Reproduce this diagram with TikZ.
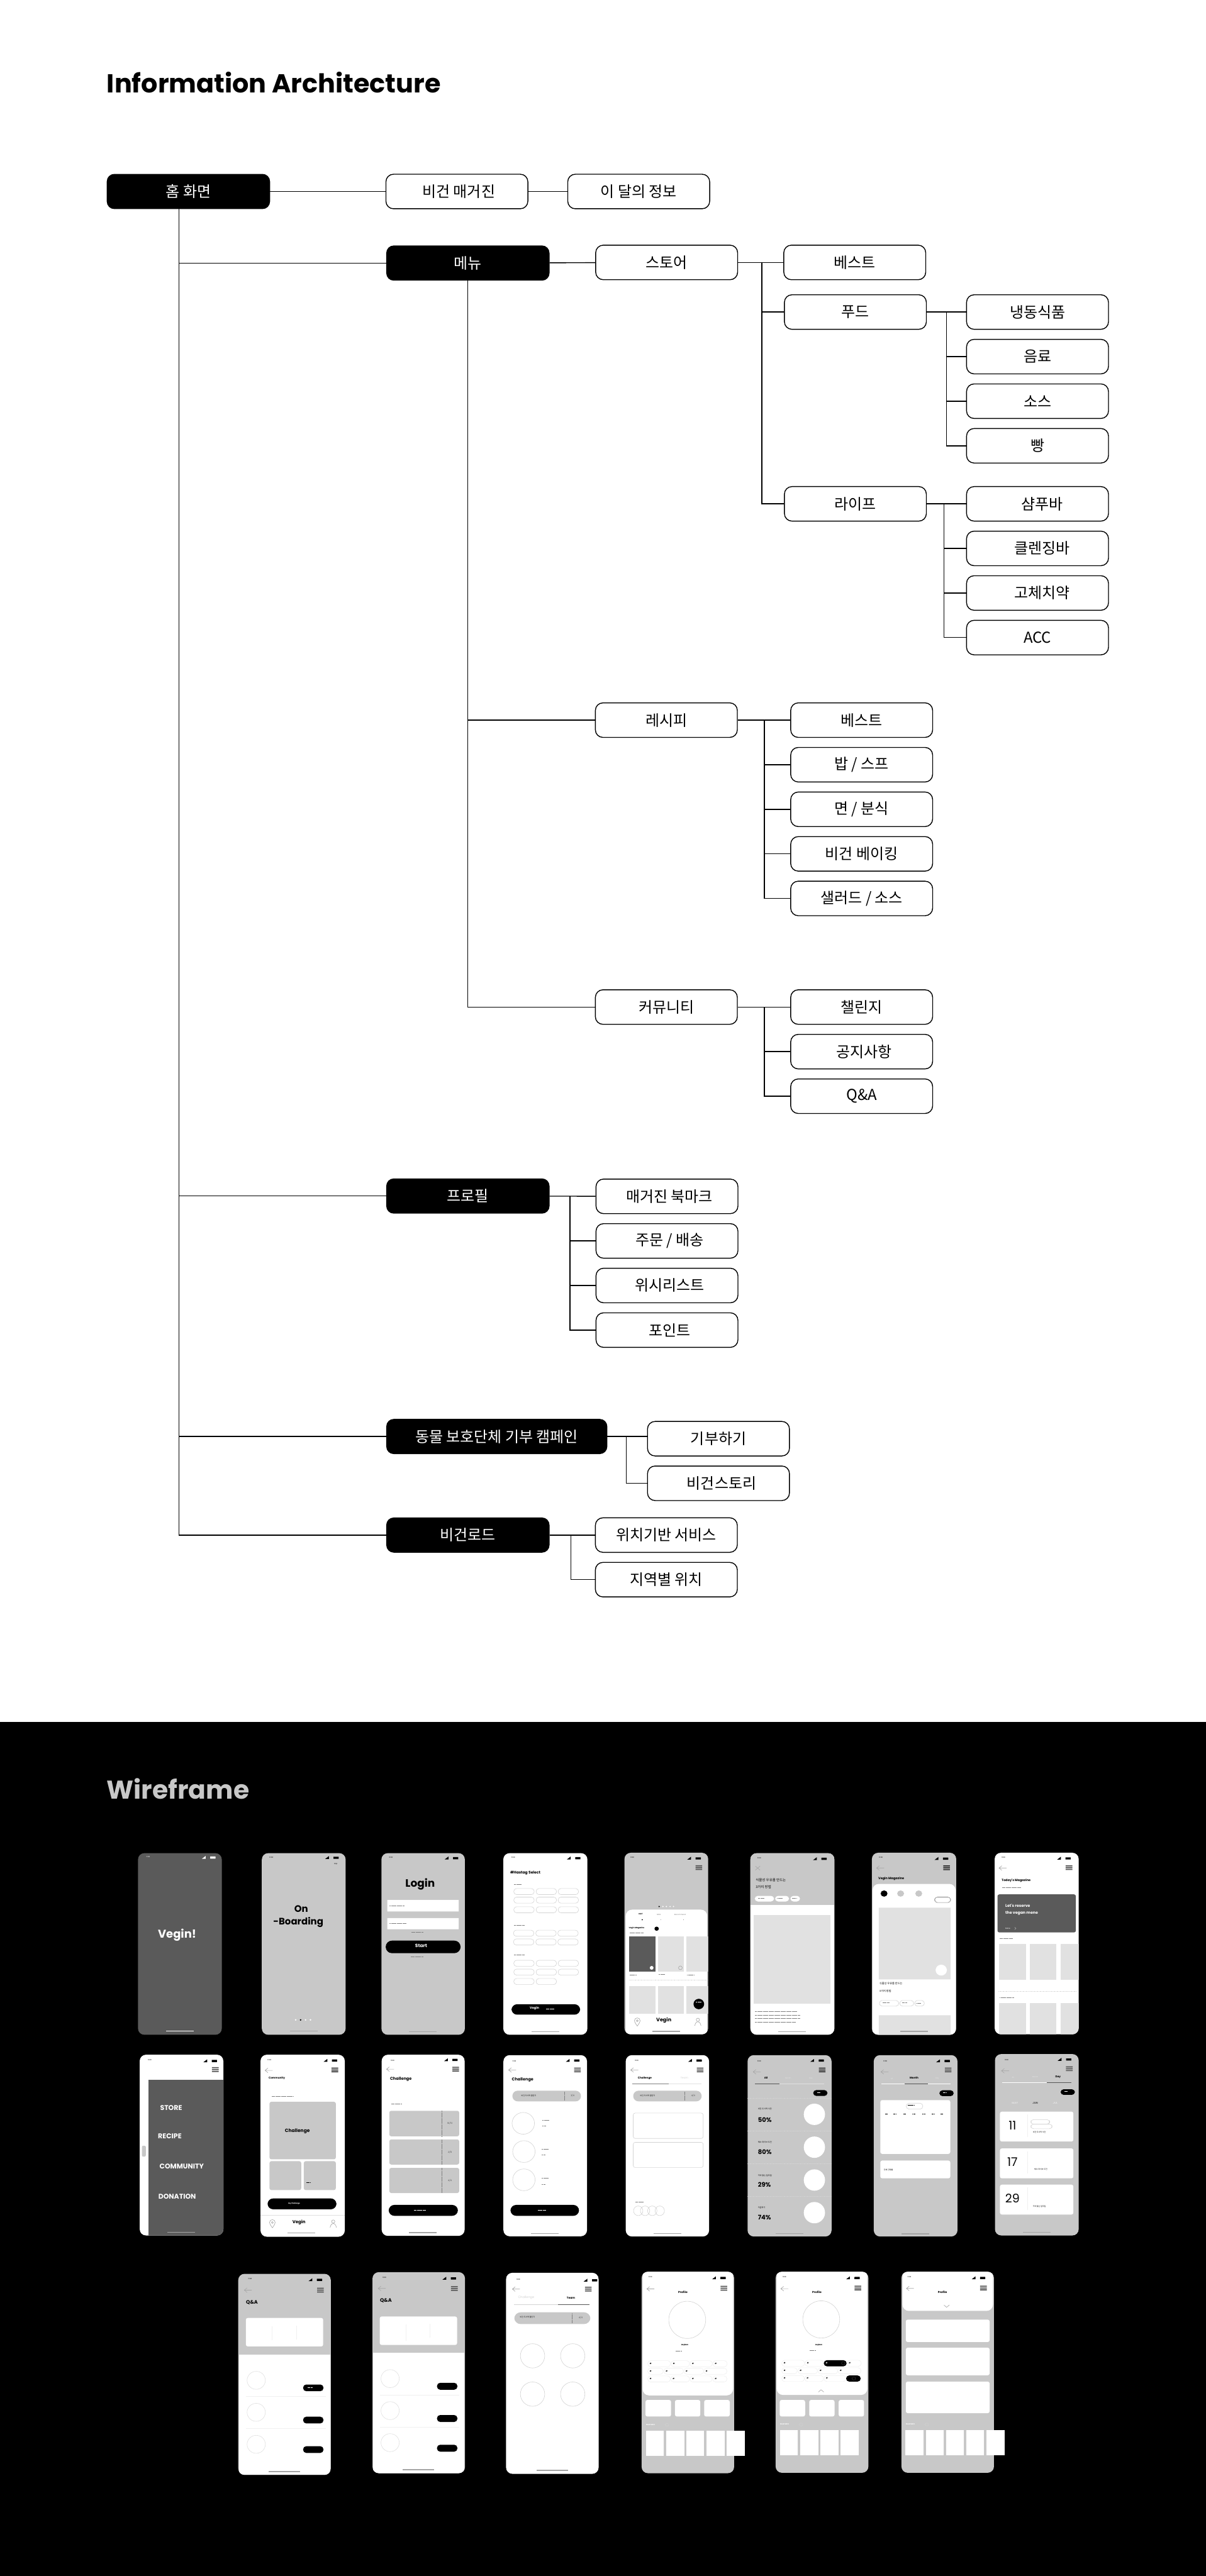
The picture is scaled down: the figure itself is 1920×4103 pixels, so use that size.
\documentclass[tikz,border=0pt]{standalone}
\usepackage{fontspec}
\setmainfont{Noto Sans CJK KR}
\newfontfamily\latf{Poppins}
\usetikzlibrary{positioning}
\definecolor{wfgray}{HTML}{C8C8C8}
\definecolor{wfdark}{HTML}{5A5A5A}
\definecolor{wflight}{HTML}{E1E1E1}
\definecolor{wffaint}{HTML}{F0F0F0}
\definecolor{wfhair}{HTML}{D4D4D4}
\definecolor{wfbar}{HTML}{A4A4A4}
\definecolor{wfink}{HTML}{555555}
% font size given in picture pixels
\newcommand{\fz}[1]{\fontsize{\fpeval{#1*1.4226}}{\fpeval{#1*1.6}}\selectfont}
% moves a label off the centre of its box, in picture pixels
\newcommand{\nudge}[1]{\hspace*{\fpeval{#1*.1}cm}}
\tikzset{
  wbox/.style  = {draw=black, fill=white, rounded corners=.6cm, line width=2pt, inner sep=0pt,
                  minimum width=11.3cm, minimum height=2.75cm, font=\fz{24}},
  kbox/.style  = {fill=black, text=white, rounded corners=.6cm, inner sep=0pt,
                  minimum width=13cm, minimum height=2.8cm, font=\fz{24}},
  link/.style  = {draw=black, line width=2pt},
  crop/.style n args={4}{shift={(#1,#2)}, x=#3cm, y=#4cm},
  wb/.style    = {inner sep=0pt, font=\latf\bfseries\fz{#1}},
  wl/.style    = {inner sep=0pt, align=center, font=\latf\fz{#1}},
  wk/.style    = {inner sep=0pt, font=\fz{#1}},
  card/.style  = {rounded corners=.15cm},
  pill/.style  = {rounded corners=.25cm},
  ring/.style  = {draw=wfhair, line width=.9pt},
  chip/.style  = {draw=wfhair, fill=white, line width=.9pt, rounded corners=.22cm},
  greek/.style = {draw=gray, line width=.9pt, dash pattern=on 1pt off .6pt},
  dots/.style  = {draw=wfhair, line width=.6pt, dash pattern=on 1.2pt off 1.2pt},
  icon/.style  = {draw=gray!70, line width=.9pt},
}
\newcommand{\phone}[3]{\fill[rounded corners=.5cm, fill=#3] (#1) rectangle (#2);}
\newcommand{\statusbar}[3]{%
  \node[wl=2.8, text=#3] at #1 {11:30};
  \begin{scope}[shift={#2}, x=.05cm, y=-.05cm]
    \fill[#3, rounded corners=.4pt] (-4.2,-1.7) rectangle (4.2,1.7);
    \fill[#3] (-17.5,2) -- (-11.5,2) -- (-11.5,-2.6) -- cycle;
  \end{scope}}
\newcommand{\burger}[2]{%
  \begin{scope}[shift={#1}, x=.05cm, y=-.05cm]
    \fill[#2] (-5.3,-3.8) rectangle (5.3,-2.1) (-5.3,-.9) rectangle (5.3,.9) (-5.3,2.1) rectangle (5.3,3.8);
  \end{scope}}
\newcommand{\backarrow}[1]{%
  \begin{scope}[shift={#1}, x=.05cm, y=-.05cm]
    \draw[icon] (6,0) -- (-6,0) (-1.5,-3.6) -- (-6,0) -- (-1.5,3.6);
  \end{scope}}
\newcommand{\homebar}[3]{%
  \begin{scope}[shift={#1}, x=.05cm, y=-.05cm]
    \fill[#3] (-#2,-.9) rectangle (#2,.9);
  \end{scope}}
\newcommand{\pinicon}[1]{%
  \begin{scope}[shift={#1}, x=.05cm, y=-.05cm]
    \draw[icon] (0,6.5) .. controls (-3,2) and (-4.5,0) .. (-4.5,-2) .. controls (-4.5,-8) and (4.5,-8) .. (4.5,-2) .. controls (4.5,0) and (3,2) .. (0,6.5);
    \draw[icon] (0,-2) circle (1.5);
  \end{scope}}
\newcommand{\personicon}[1]{%
  \begin{scope}[shift={#1}, x=.05cm, y=-.05cm]
    \draw[icon] (0,-3.5) circle (2.6);
    \draw[icon] (-5,6) .. controls (-4,1) and (-2,-.5) .. (0,-.5) .. controls (2,-.5) and (4,1) .. (5,6);
  \end{scope}}
\newcommand{\profiletop}[2]{%
  \begin{scope}[shift={(#1,#2)}]
    \draw[ring] (231,285) ellipse (72 and 89);
    \node[wb=3] at (221,406) {Jaybon};
    \draw[greek] (185,433) -- (209,433);
    \foreach \a/\b in {77/166,168/240,242/329,331/387} {
      \draw[chip, draw=wffaint] (\a,480) rectangle (\b,509);
      \node[wb=3] at ({\a+11},494) {\#};}
    \foreach \a/\b in {77/137,140/216,218/295,296/386} {
      \draw[chip, draw=wffaint] (\a,516) rectangle (\b,545);
      \node[wb=3] at ({\a+11},530) {\#};}
    \foreach \a/\b in {77/165,167/240,242/328,331/386} {
      \draw[chip, draw=wffaint] (\a,553) rectangle (\b,582);
      \node[wb=3] at ({\a+11},567) {\#};}
  \end{scope}}
\begin{document}
\begin{tikzpicture}[x=.05cm, y=-.05cm, node distance=7.3mm and 13mm]
\useasboundingbox (0,0) rectangle (1920,4103);
\fill[white] (0,0) rectangle (1920,2743);
\fill[black] (0,2743) rectangle (1920,4103);

% --- information architecture: top level ---------------------------------
\node[wb=41.4, anchor=base west] (iatitle) at (170,148) {Information Architecture};
\node[kbox] (home) at (300,305) {홈 화면};
\node[wbox] (mag) at (727.5,305) {\nudge{3}비건 매거진};
\node[wbox] (month) at (1017,305) {이 달의 정보};
\node[kbox] (menu) at (745,419) {메뉴};
\node[kbox] (profile) at (745,1905) {프로필};
\node[kbox, minimum width=17.6cm] (donate) at (791,2288) {동물 보호단체 기부 캠페인};
\node[kbox] (road) at (745,2445) {비건로드};

% store branch
\node[wbox] (store) at (1061.5,418) {스토어};
\node[wbox] (sbest) at (1361,418) {베스트};
\node[wbox] (food) at (1362,497) {푸드};
\node[wbox] (life) at (1362,802.5) {라이프};
\node[wbox] (frozen) at (1652,497) {냉동식품};
\node[wbox, below=of frozen] (drink) {음료};
\node[wbox, below=of drink] (sauce) {소스};
\node[wbox, below=of sauce] (bread) {빵};
\node[wbox] (shampoo) at (1652,802.5) {\nudge{7}샴푸바};
\node[wbox, below=of shampoo] (cleanse) {\nudge{7}클렌징바};
\node[wbox, below=of cleanse] (tooth) {\nudge{7}고체치약};
\node[wbox, below=of tooth] (acc) {ACC};

% recipe branch
\node[wbox] (recipe) at (1061,1147) {레시피};
\node[wbox] (rbest) at (1372,1147) {베스트};
\node[wbox, below=of rbest] (rice) {밥 / 스프};
\node[wbox, below=of rice] (noodle) {면 / 분식};
\node[wbox, below=of noodle] (bake) {비건 베이킹};
\node[wbox, below=of bake] (salad) {샐러드 / 소스};

% community branch
\node[wbox] (comm) at (1061,1604) {커뮤니티};
\node[wbox] (chal) at (1372,1604) {챌린지};
\node[wbox, below=of chal] (notice) {\nudge{4}공지사항};
\node[wbox, below=of notice] (qna) {Q\&A};

% profile, donation, road
\node[wbox] (pbook) at (1062,1905.5) {\nudge{4}매거진 북마크};
\node[wbox, below=of pbook] (order) {\nudge{4}주문 / 배송};
\node[wbox, below=of order] (wish) {\nudge{4}위시리스트};
\node[wbox, below=of wish] (point) {\nudge{4}포인트};
\node[wbox] (give) at (1144,2291.5) {기부하기};
\node[wbox, below=of give] (story) {\nudge{5}비건스토리};
\node[wbox] (gps) at (1061,2445) {위치기반 서비스};
\node[wbox, below=of gps] (area) {지역별 위치};

% --- connectors -------------------------------------------------------------
\coordinate (homedrop) at (285,333);
\coordinate (menudrop) at (744.5,447);
\coordinate (storedrop) at (1213,418);
\coordinate (fooddrop) at (1507,497);
\coordinate (lifedrop) at (1503,802.5);
\coordinate (recipedrop) at (1217,1147);
\coordinate (commdrop) at (1217,1604);
\coordinate (profdrop) at (907.5,1905);
\coordinate (donatedrop) at (997,2288);
\coordinate (roaddrop) at (909,2445);

\draw[link] (home) -- (mag);
\draw[link] (mag) -- (month);
\draw[link] (homedrop) |- (road.west);
\draw[link] (homedrop |- menu.west) -- (menu.west);
\draw[link] (homedrop |- profile.west) -- (profile.west);
\draw[link] (homedrop |- donate.west) -- (donate.west);
\draw[link] (menu) -- (store);
\draw[link] (menudrop) |- (comm.west);
\draw[link] (menudrop |- recipe.west) -- (recipe.west);
\draw[link] (store) -- (sbest);
\draw[link] (storedrop) |- (life.west);
\draw[link] (storedrop |- food.west) -- (food.west);
\draw[link] (food) -- (frozen);
\draw[link] (fooddrop) |- (bread.west);
\draw[link] (fooddrop |- drink.west) -- (drink.west);
\draw[link] (fooddrop |- sauce.west) -- (sauce.west);
\draw[link] (life) -- (shampoo);
\draw[link] (lifedrop) |- (acc.west);
\draw[link] (lifedrop |- cleanse.west) -- (cleanse.west);
\draw[link] (lifedrop |- tooth.west) -- (tooth.west);
\draw[link] (recipe) -- (rbest);
\draw[link] (recipedrop) |- (salad.west);
\draw[link] (recipedrop |- rice.west) -- (rice.west);
\draw[link] (recipedrop |- noodle.west) -- (noodle.west);
\draw[link] (recipedrop |- bake.west) -- (bake.west);
\draw[link] (comm) -- (chal);
\draw[link] (commdrop) |- (qna.west);
\draw[link] (commdrop |- notice.west) -- (notice.west);
\draw[link] (profile) -- (pbook);
\draw[link] (profdrop) |- (point.west);
\draw[link] (profdrop |- order.west) -- (order.west);
\draw[link] (profdrop |- wish.west) -- (wish.west);
\draw[link] (donate.east) -- (donate.east -| give.west);
\draw[link] (donatedrop) |- (story.west);
\draw[link] (road) -- (gps);
\draw[link] (roaddrop) |- (area.west);

% --- wireframes -------------------------------------------------------------
\node[wb=41, anchor=base west, text=wfgray] (wftitle) at (170,2865) {Wireframe};

% first row, left half
\begin{scope}[crop={180}{2920}{0.02615}{-0.016667}]
\phone{76,95}{331,963}{wfdark}
\statusbar{(107,112)}{(304,116)}{white}
\node[wb=18, text=white] at (195,487) {Vegin!};
\homebar{(204,945)}{22}{white}

\phone{453,95}{708,963}{wfgray}
\statusbar{(482,114)}{(679,117)}{black}
\node[wl=2.6] at (678,146) {skip};
\node[wb=15] at (573,360) {On};
\node[wb=15] at (564,425) {-Boarding};
\foreach \a in {556,586,601} \fill[white] (\a,892) ellipse (2.6 and 4);
\fill[black] (571,892) ellipse (2.6 and 4);
\homebar{(580,945)}{22}{wfbar}

\phone{817,95}{1071,963}{wfgray}
\statusbar{(846,116)}{(1043,119)}{black}
\node[wb=17] at (935,243) {Login};
\fill[white] (835,319) rectangle (1052,374) (835,405) rectangle (1052,459);
\draw[greek] (842,346) -- (887,346) (842,432) -- (892,432) (908,473) -- (944,473) (906,589) -- (943,589);
\fill[black, rounded corners=.5cm] (830,513) rectangle (1058,573);
\node[wb=7.5, text=white] at (938,537) {Start};
\homebar{(943,948)}{22}{wfbar}

\phone{1188,95}{1444,963}{white}
\statusbar{(1218,116)}{(1415,119)}{black}
\node[wb=6] at (1255,190) {\#Hastag Select};
\draw[greek] (1221,244) -- (1243,244) (1221,440) -- (1253,440) (1221,582) -- (1253,582);
\foreach \b in {264,305,351,607,649} \foreach \a in {1220,1288,1355} \draw[chip] (\a,\b) rectangle ({\a+62},{\b+29});
\foreach \b in {463,505} \foreach \a in {1219,1287,1354} \draw[chip] (\a,\b) rectangle ({\a+62},{\b+29});
\foreach \a in {1220,1288} \draw[chip] (\a,694) rectangle ({\a+62},723);
\fill[black, rounded corners=.45cm] (1213,817) rectangle (1422,867);
\node[wb=5, text=white] at (1283,837) {Vegin};
\draw[greek, draw=white] (1318,838) -- (1342,838);
\homebar{(1316,948)}{22}{wfbar}
\end{scope}

% first row, right half
\begin{scope}[crop={960}{2920}{0.024876}{-0.016667}]
\phone{69,93}{337,961}{wfgray}
\begin{scope}
\clip[rounded corners=.5cm] (69,93) rectangle (337,961);
\fill[white, rounded corners=.5cm] (73,365) rectangle (334,1100);
\foreach \a/\b/\c in {84/168/wfdark,177/259/wflight,268/340/wflight} \fill[\c] (\a,493) rectangle (\b,660);
\foreach \a/\b in {84/168,177/259,268/340} \fill[wflight] (\a,729) rectangle (\b,862);
\draw[dots] (84,702) -- (335,702);
\end{scope}
\statusbar{(94,116)}{(305,120)}{black}
\burger{(307,164)}{wfink}
\fill[black] (180,350) ellipse (2.2 and 3.3);
\foreach \a in {192,203,215,226} \fill[white] (\a,350) ellipse (2.2 and 3.3);
\node[wb=3] at (121,386) {HOT};
\node[wl=2.8, text=gray] at (179,388) {NEW};
\node[wl=2.8, text=gray] at (247,388) {Recommend};
\fill[black] (126,413) ellipse (2 and 3);
\fill[gray] (185,413) ellipse (1 and 1.5) (258,413) ellipse (1 and 1.5);
\node[wb=3] at (108,454) {Vegin Magazine};
\fill[black] (172,456) ellipse (7 and 10);
\draw[greek] (85,475) -- (129,475) (85,676) -- (107,676) (179,674) -- (199,674) (270,676) -- (291,676);
\fill[white] (156,643) ellipse (6 and 9);
\draw[icon] (248,643) ellipse (6 and 9);
\fill[black] (307,816) ellipse (17 and 25);
\draw[greek, draw=white] (298,807) -- (316,807);
\node[wb=8] at (195,895) {Vegin};
\pinicon{(110,902)}
\personicon{(304,902)}
\homebar{(203,946)}{22}{wfbar}

\phone{472,95}{741,963}{white}
\begin{scope}
\clip[rounded corners=.5cm] (472,95) rectangle (741,963);
\fill[wfgray] (472,95) rectangle (741,343);
\end{scope}
\statusbar{(500,118)}{(708,122)}{black}
\draw[icon] (488,157) -- (503,176) (503,157) -- (488,176);
\node[wk=5.5, anchor=west] at (489,223) {식물성 우유를 만드는};
\node[wk=5.5, anchor=west] at (489,257) {3가지 방법};
\fill[white, pill] (486,299) rectangle (548,326) (551,299) rectangle (596,326) (600,299) rectangle (631,326);
\draw[greek] (497,309) -- (517,309) (558,309) -- (574,309) (605,311) -- (620,311);
\fill[wflight] (483,392) rectangle (729,813);
\draw[greek] (487,851) -- (622,851) (487,869) -- (630,869) (487,886) -- (630,886) (487,903) -- (618,903);
\homebar{(606,948)}{22}{wfbar}

\phone{861,93}{1131,963}{wfgray}
\begin{scope}
\clip[rounded corners=.5cm] (861,93) rectangle (1131,963);
\fill[white, rounded corners=.5cm] (863,242) rectangle (1129,1100);
\fill[wflight] (883,356) rectangle (1113,698) (883,870) rectangle (1113,1000);
\end{scope}
\statusbar{(890,116)}{(1097,121)}{black}
\backarrow{(888,166)}
\burger{(1100,165)}{black!80}
\node[wb=5] at (923,216) {Vegin Magazine};
\fill[black] (900,288) ellipse (11 and 15);
\fill[wfgray] (953,288) ellipse (11 and 15) (1011,288) ellipse (11 and 15);
\draw[chip, draw=gray] (1062,305) rectangle (1113,331);
\fill[white] (1083,654) ellipse (18 and 26);
\node[wk=4.2, anchor=west] at (885,719) {식물성 우유를 만드는};
\node[wk=4.2, anchor=west] at (885,755) {3가지 방법};
\draw[chip] (885,799) rectangle (947,826);
\draw[chip] (950,799) rectangle (995,826);
\draw[chip] (998,799) rectangle (1029,826);
\draw[greek] (895,809) -- (916,809) (958,809) -- (972,809) (1003,811) -- (1017,811);
\homebar{(996,947)}{22}{wfbar}

\phone{1254,93}{1523,961}{white}
\begin{scope}
\clip[rounded corners=.5cm] (1254,93) rectangle (1523,961);
\foreach \a/\b in {1268/1354,1367/1452,1465/1530} {
  \fill[wflight] (\a,528) rectangle (\b,700);
  \fill[wflight] (\a,811) rectangle (\b,1000);}
\end{scope}
\statusbar{(1282,116)}{(1489,120)}{black}
\backarrow{(1280,166)}
\burger{(1492,164)}{wfink}
\node[wb=5, anchor=west] at (1276,226) {Today's Magazine};
\draw[greek] (1278,258) -- (1339,258) (1270,503) -- (1311,503) (1271,785) -- (1316,785);
\fill[wfdark, card] (1263,292) rectangle (1514,474);
\node[wb=6.2, text=white, anchor=west] at (1288,345) {Let's reserve};
\node[wb=6.2, text=white, anchor=west] at (1288,381) {the vegan mene};
\node[wl=3, text=white] at (1296,454) {More};
\draw[icon] (1318,449) -- (1322,455) -- (1318,461);
\draw[dots] (1266,754) -- (1515,754);
\end{scope}

% second row, left half
\begin{scope}[crop={200}{3250}{0.02551}{-0.016667}]
\phone{44,68}{305,932}{white}
\begin{scope}
\clip[rounded corners=.5cm] (44,68) rectangle (305,932);
\fill[wfdark] (71,187) rectangle (310,940);
\end{scope}
\statusbar{(75,94)}{(277,98)}{black}
\burger{(280,139)}{wfink}
\fill[wfgray, rounded corners=.1cm] (51,503) rectangle (63,555);
\node[wb=11, text=white] at (142,322) {STORE};
\node[wb=11, text=white] at (138,456) {RECIPE};
\node[wb=11, text=white] at (175,602) {COMMUNITY};
\node[wb=11, text=white] at (161,746) {DONATION};
\homebar{(174,917)}{22}{wfbar}

\phone{421,68}{684,938}{white}
\statusbar{(449,92)}{(652,96)}{black}
\backarrow{(447,143)}
\burger{(653,141)}{black!80}
\node[wb=4.2] at (472,180) {Community};
\draw[greek] (456,268) -- (523,268);
\fill[wfgray, card] (449,293) rectangle (656,568);
\node[wb=7.5] at (536,433) {Challenge};
\fill[wfgray, card] (449,577) rectangle (548,715);
\fill[wfgray, card] (556,577) rectangle (656,715);
\draw[greek, draw=black] (564,680) -- (576,680);
\fill[black, rounded corners=.45cm] (443,755) rectangle (658,807);
\node[wb=2.6, text=white] at (526,780) {My Challenge};
\draw[wflight, line width=1pt] (421,836) -- (684,836);
\node[wb=7] at (541,868) {Vegin};
\pinicon{(458,876)}
\personicon{(648,876)}
\homebar{(549,920)}{22}{wfbar}

\phone{799,68}{1058,934}{white}
\statusbar{(833,96)}{(1028,93)}{black}
\backarrow{(826,137)}
\burger{(1030,137)}{wfink}
\node[wb=6.5] at (859,186) {Challenge};
\draw[greek] (829,302) -- (860,302);
\foreach \b/\c/\d in {336/458/10\slash 13,473/593/2\slash 8,609/729/4\slash 4} {
  \fill[wfgray, card] (823,\b) rectangle (1041,\c);
  \draw[greek] (986,\b) -- (986,\c);
  \node[wl=3.5, text=black!70] at (1012,{(\b+\c)/2}) {\d};}
\fill[black, rounded corners=.45cm] (821,786) rectangle (1037,838);
\draw[greek, draw=white] (900,811) -- (936,811);
\homebar{(928,919)}{22}{wfbar}

\phone{1179,70}{1440,936}{white}
\statusbar{(1213,98)}{(1408,96)}{black}
\backarrow{(1207,141)}
\burger{(1410,141)}{wfink}
\node[wb=6.5] at (1239,188) {Challenge};
\fill[wfgray, rounded corners=.42cm] (1207,240) rectangle (1421,291);
\node[wk=3] at (1258,263) {비건 도시락 챌린지};
\draw[greek] (1369,245) -- (1369,286);
\node[wl=3.5, text=black!70] at (1395,264) {3/4};
\draw[ring] (1241,396) ellipse (35 and 52);
\draw[ring] (1243,531) ellipse (35 and 52);
\draw[ring] (1243,666) ellipse (35 and 52);
\draw[greek] (1301,381) -- (1321,381) (1301,408) -- (1312,408) (1299,519) -- (1319,519) (1299,548) -- (1310,548) (1299,659) -- (1319,659) (1299,688) -- (1310,688);
\fill[black, rounded corners=.45cm] (1201,786) rectangle (1415,838);
\draw[greek, draw=white] (1286,811) -- (1312,811);
\homebar{(1309,923)}{22}{wfbar}
\end{scope}

% second row, right half
\begin{scope}[crop={960}{3250}{0.024876}{-0.016667}]
\phone{73,70}{340,937}{white}
\statusbar{(108,97)}{(308,96)}{black}
\backarrow{(101,141)}
\burger{(311,141)}{wfink}
\node[wb=4.2] at (134,180) {Challenge};
\node[wl=4.2, text=wfhair] at (261,180) {Team};
\fill[wflight] (93,205) rectangle (315,209);
\fill[gray] (93,205) rectangle (211,209);
\fill[wfgray, rounded corners=.42cm] (97,240) rectangle (316,291);
\node[wk=3] at (143,263) {비건 도시락 챌린지};
\draw[greek] (262,245) -- (262,286);
\node[wl=3.5, text=black!70] at (289,264) {4/4};
\draw[ring, card] (97,347) rectangle (321,468);
\draw[ring, card] (97,487) rectangle (321,607);
\draw[greek] (104,773) -- (130,773);
\foreach \a in {113,135,158,182} \draw[ring] (\a,814) ellipse (15 and 23);
\homebar{(206,923)}{22}{wfbar}

\phone{463,70}{732,937}{wfgray}
\statusbar{(500,98)}{(699,96)}{black}
\backarrow{(493,150)}
\burger{(702,141)}{black!80}
\node[wb=4.2] at (522,178) {All};
\node[wl=3, text=wflight] at (593,180) {Month};
\node[wl=3, text=wflight] at (666,180) {Day};
\fill[wflight] (487,205) rectangle (708,209);
\fill[wfink] (487,205) rectangle (565,209);
\fill[black, rounded corners=.25cm] (673,237) rectangle (719,265);
\draw[greek, draw=white] (685,248) -- (695,248);
\foreach \b in {276,432,589,745} \draw[dots] (463,\b) -- (732,\b);
\node[wk=3.2, anchor=west] at (496,328) {비건 도시락 식단};
\node[wb=10, anchor=west] at (496,379) {50\%};
\node[wk=3.2, anchor=west] at (496,486) {채소 파이브 도전};
\node[wb=10, anchor=west] at (496,532) {80\%};
\node[wk=3.2, anchor=west] at (496,647) {저녁 없는 일주일};
\node[wb=10, anchor=west] at (496,690) {29\%};
\node[wk=3.2, anchor=west] at (496,800) {저금하기};
\node[wb=10, anchor=west] at (496,847) {74\%};
\foreach \b in {353,510,667,823} \fill[white] (677,\b) ellipse (34 and 51);
\homebar{(597,923)}{22}{wfbar}

\phone{867,70}{1135,937}{wfgray}
\statusbar{(904,100)}{(1102,98)}{black}
\backarrow{(902,150)}
\burger{(1105,141)}{wfink}
\node[wl=3, text=wflight] at (925,182) {All};
\node[wb=4.2] at (996,178) {Month};
\node[wl=3, text=wflight] at (1070,182) {Day};
\fill[white] (892,207) rectangle (1112,210);
\fill[wfink] (965,207) rectangle (1041,210);
\fill[black, rounded corners=.25cm] (1077,238) rectangle (1123,266);
\draw[greek, draw=white] (1089,249) -- (1099,249);
\fill[white, card] (888,285) rectangle (1112,542);
\draw[chip] (971,300) rectangle (1024,328);
\draw[greek, draw=black] (975,309) -- (997,309);
\foreach \a in {903,930,961,991,1023,1053,1080} \draw[greek, draw=black] (\a,350) -- ({\a+9},350);
\fill[white, card] (888,574) rectangle (1112,659);
\node[wk=3, anchor=west] at (899,619) {전체 진행률};
\homebar{(1001,924)}{22}{wfbar}

\phone{1255,65}{1523,932}{wfgray}
\statusbar{(1292,93)}{(1491,91)}{black}
\backarrow{(1288,145)}
\burger{(1493,135)}{wfink}
\node[wl=3, text=wflight] at (1313,176) {All};
\node[wl=3, text=wflight] at (1384,174) {Month};
\node[wb=4.2] at (1457,174) {Day};
\fill[white] (1279,201) rectangle (1500,204);
\fill[wfink] (1422,201) rectangle (1500,204);
\fill[black, rounded corners=.25cm] (1465,233) rectangle (1511,260);
\draw[greek, draw=white] (1477,244) -- (1487,244);
\node[wb=4.2, text=wflight] at (1319,300) {MAY};
\node[wb=4.2, text=wfink] at (1384,300) {JUN};
\node[wb=4.2, text=wflight] at (1448,300) {JUL};
\foreach \b/\d in {340/11,516/17,689/29} {
  \fill[white, card] (1271,\b) rectangle (1506,{\b+143});
  \draw[wffaint, line width=.5pt] (1358,{\b+14}) -- (1358,{\b+120});
  \node[wl=19, text=black] at (1311,{\b+66}) {\d};}
\draw[chip] (1370,378) rectangle (1430,400);
\draw[chip] (1370,400) rectangle (1438,422);
\node[wk=3] at (1397,438) {비건 도시락 식단};
\node[wk=3] at (1402,617) {채소 파이브 도전};
\node[wk=3] at (1397,793) {저녁 없는 일주일};
\homebar{(1389,917)}{22}{wfbar}
\end{scope}

% third row, left part
\begin{scope}[crop={360}{3600}{0.024237}{-0.016667}]
\phone{40,65}{344,1026}{wfgray}
\begin{scope}
\clip[rounded corners=.5cm] (40,65) rectangle (344,1026);
\fill[white] (42,450) rectangle (342,1030);
\end{scope}
\statusbar{(79,90)}{(307,94)}{black}
\backarrow{(72,143)}
\burger{(310,143)}{wfink}
\node[wb=8] at (85,201) {Q\&A};
\fill[white, card] (65,276) rectangle (319,412);
\draw[wffaint, line width=.4pt] (150,316) -- (150,382) (230,312) -- (230,378);
\foreach \b in {574,727,880} \draw[ring, draw=wflight] (99,\b) ellipse (30 and 43);
\foreach \b in {594,748,889} \fill[black, rounded corners=.25cm] (253,\b) rectangle (320,{\b+32});
\draw[greek, draw=white] (268,609) -- (284,609);
\draw[wffaint, line width=.4pt] (65,650) -- (327,650) (65,803) -- (327,803);
\homebar{(191,1010)}{25}{wfbar}

\phone{481,57}{785,1018}{wfgray}
\begin{scope}
\clip[rounded corners=.5cm] (481,57) rectangle (785,1018);
\fill[white] (483,443) rectangle (783,1022);
\end{scope}
\statusbar{(520,82)}{(747,87)}{black}
\backarrow{(512,135)}
\burger{(750,135)}{wfink}
\node[wb=8] at (525,193) {Q\&A};
\fill[white, card] (505,269) rectangle (759,405);
\draw[wffaint, line width=.4pt] (590,308) -- (590,384) (670,305) -- (670,370);
\foreach \b in {566,719,872} \draw[ring, draw=wflight] (539,\b) ellipse (30 and 43);
\foreach \b in {586,740,882} \fill[black, rounded corners=.25cm] (693,\b) rectangle (760,{\b+33});
\draw[wffaint, line width=.4pt] (505,643) -- (767,643) (505,796) -- (767,796);
\homebar{(632,1002)}{25}{wfbar}

\phone{920,60}{1224,1021}{white}
\statusbar{(960,92)}{(1211,96)}{black}
\backarrow{(953,138)}
\burger{(1190,138)}{wfink}
\node[wl=5, text=wfhair] at (986,180) {Challenge};
\node[wb=4.5] at (1133,180) {Team};
\fill[wfhair] (945,210) rectangle (1195,214);
\fill[wfink] (1090,210) rectangle (1195,214);
\fill[wfgray, rounded corners=.5cm] (947,249) rectangle (1197,305);
\node[wk=3] at (990,271) {비건 도시락 챌린지};
\draw[greek] (1136,254) -- (1136,300);
\node[wl=3.5, text=black!70] at (1165,274) {4/4};
\foreach \a in {1007,1139} \foreach \b in {457,640} \draw[ring] (\a,\b) ellipse (40 and 58);
\homebar{(1072,1005)}{25}{wfbar}
\end{scope}

% third row, profile screens
\begin{scope}[crop={1000}{3600}{0.020408}{-0.016667}]
\phone{53,55}{414,1018}{wfgray}
\begin{scope}
\clip[rounded corners=.5cm] (53,55) rectangle (414,1018);
\fill[white, rounded corners=.5cm] (57,20) rectangle (410,646);
\end{scope}
\statusbar{(87,80)}{(371,85)}{black}
\backarrow{(88,137)}
\burger{(374,134)}{wfink}
\node[wb=4.5] at (214,154) {Profile};
\profiletop{0}{0}
\foreach \a/\b in {68/168,183/282,297/397} \fill[white, card] (\a,668) rectangle (\b,747);
\node[wb=2.6, text=white] at (88,786) {Book Mark};
\draw[ring, draw=wfhair, line width=.4pt] (152,787) ellipse (7 and 7);
\foreach \a/\b in {70/140,149/219,227/297,306/377,385/455} \fill[white] (\a,814) rectangle (\b,935);

\phone{576,55}{938,1016}{wfgray}
\begin{scope}
\clip[rounded corners=.5cm] (576,55) rectangle (938,1016);
\fill[white, rounded corners=.5cm] (580,20) rectangle (934,644);
\end{scope}
\statusbar{(610,80)}{(894,85)}{black}
\backarrow{(611,136)}
\burger{(897,133)}{wfink}
\node[wb=4.5] at (737,152) {Profile};
\profiletop{523}{-2}
\fill[black, rounded corners=.24cm] (764,478) rectangle (853,507);
\fill[black, rounded corners=.24cm] (851,551) rectangle (908,580);
\node[wb=3, text=white] at (775,492) {\#};
\draw[wfink, line width=.4pt] (840,492) ellipse (7 and 8) (881,565) ellipse (7 and 8);
\draw[icon] (743,630) -- (753,619) -- (764,630);
\foreach \a/\b in {592/691,707/806,822/921} \fill[white, card] (\a,668) rectangle (\b,747);
\node[wb=2.6, text=white] at (611,784) {Book Mark};
\draw[ring, draw=wfhair, line width=.4pt] (675,785) ellipse (7 and 7);
\foreach \a/\b in {593/662,672/742,751/821,830/900} \fill[white] (\a,813) rectangle (\b,933);

\phone{1067,55}{1428,1016}{wfgray}
\begin{scope}
\clip[rounded corners=.5cm] (1067,55) rectangle (1428,1016);
\fill[white, rounded corners=.5cm] (1071,20) rectangle (1424,242);
\end{scope}
\statusbar{(1098,80)}{(1384,85)}{black}
\backarrow{(1101,135)}
\burger{(1387,133)}{wfink}
\node[wb=4.5] at (1227,152) {Profile};
\draw[icon] (1233,214) -- (1243,225) -- (1254,214);
\fill[white, card] (1084,284) rectangle (1411,391);
\fill[white, card] (1084,418) rectangle (1411,550);
\fill[white, card] (1084,580) rectangle (1411,731);
\node[wb=2.6, text=white] at (1102,784) {Book Mark};
\draw[ring, draw=wfhair, line width=.4pt] (1166,785) ellipse (7 and 7);
\foreach \a/\b in {1083/1153,1162/1232,1241/1311,1320/1390,1398/1469} \fill[white] (\a,813) rectangle (\b,933);
\end{scope}
\end{tikzpicture}
\end{document}
